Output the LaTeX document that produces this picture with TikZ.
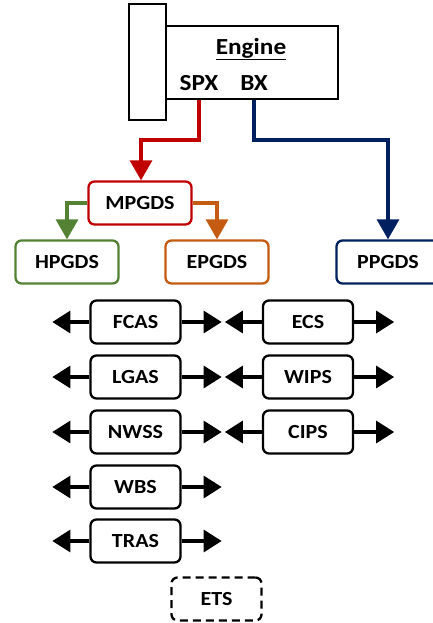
\documentclass[tikz,border=0pt]{standalone}
\usepackage{fontspec}
\setmainfont{Carlito}[FakeStretch=1.1]
\usetikzlibrary{positioning,calc,arrows.meta}
\definecolor{spxred}{RGB}{192,0,0}
\definecolor{bxblue}{RGB}{0,32,96}
\definecolor{hgreen}{RGB}{84,130,53}
\definecolor{eorange}{RGB}{197,90,17}
\tikzset{
  lbl/.style={font=\bfseries\fontsize{23}{27}\selectfont, inner sep=0pt},
  box/.style={
    draw,
    rounded corners=6pt,
    line width=2.3pt,
    minimum width=90pt,
    minimum height=43pt,
    font=\bfseries\fontsize{20}{24}\selectfont
    },
  wide/.style={box, minimum width=103pt},
  feed/.style={line width=3.2pt, -{Triangle[length=20pt,width=22pt]}},
  side/.style={line width=3.2pt, -{Triangle[length=18pt,width=22pt]}},
}

\begin{document}
\begin{tikzpicture}[x=1pt,y=-1pt]
    \useasboundingbox (0,0) rectangle (433,623);

    % engine block
    \node [draw, line width=2.3pt, minimum width=172pt, minimum height=73pt] (eng) at (252,62.5) {};
    \node [draw, fill=white, line width=2.3pt, minimum width=37pt, minimum height=116pt] (hub) at (147.5,62) {};
    \node [lbl] (title) at (251,49) {\underline{Engine}};
    \node [lbl] (spx) at (199,83) {SPX};
    \node [lbl] (bx) at (254,83) {BX};

    % power distribution
    \node [wide, draw=spxred] (mpgds) at (140,203) {MPGDS};
    \node [wide, draw=hgreen] (hpgds) at (67,262) {HPGDS};
    \node [wide, draw=eorange] (epgds) at (217,262) {EPGDS};
    \node [wide, draw=bxblue] (ppgds) at (388,262) {PPGDS};

    \draw [feed, spxred] (eng.south -| spx) |- (141,140) -- (141,140 |- mpgds.north);
    \draw [feed, bxblue] (eng.south -| bx) |- (ppgds.north |- 0,140) -- (ppgds.north);
    \draw [feed, hgreen] (mpgds.west) -| (hpgds.north);
    \draw [feed, eorange] (mpgds.east) -| (epgds.north);

    % systems
    \foreach \n/\t/\x/\y in {fcas/FCAS/135.5/322, lgas/LGAS/135.5/377, nwss/NWSS/135.5/432,
                             wbs/WBS/135.5/487, tras/TRAS/135.5/541,
                             ecs/ECS/308/322, wips/WIPS/308/377, cips/CIPS/308/432}
    {
        \node [box] (\n) at (\x,\y) {\t};
        \draw [side] (\n.west) -- ++(-37,0);
        \draw [side] (\n.east) -- ++(40,0);
    }

    \node [box, dashed, dash pattern=on 8pt off 5pt] (ets) at (216.5,599) {ETS};

\end{tikzpicture}
\end{document}
